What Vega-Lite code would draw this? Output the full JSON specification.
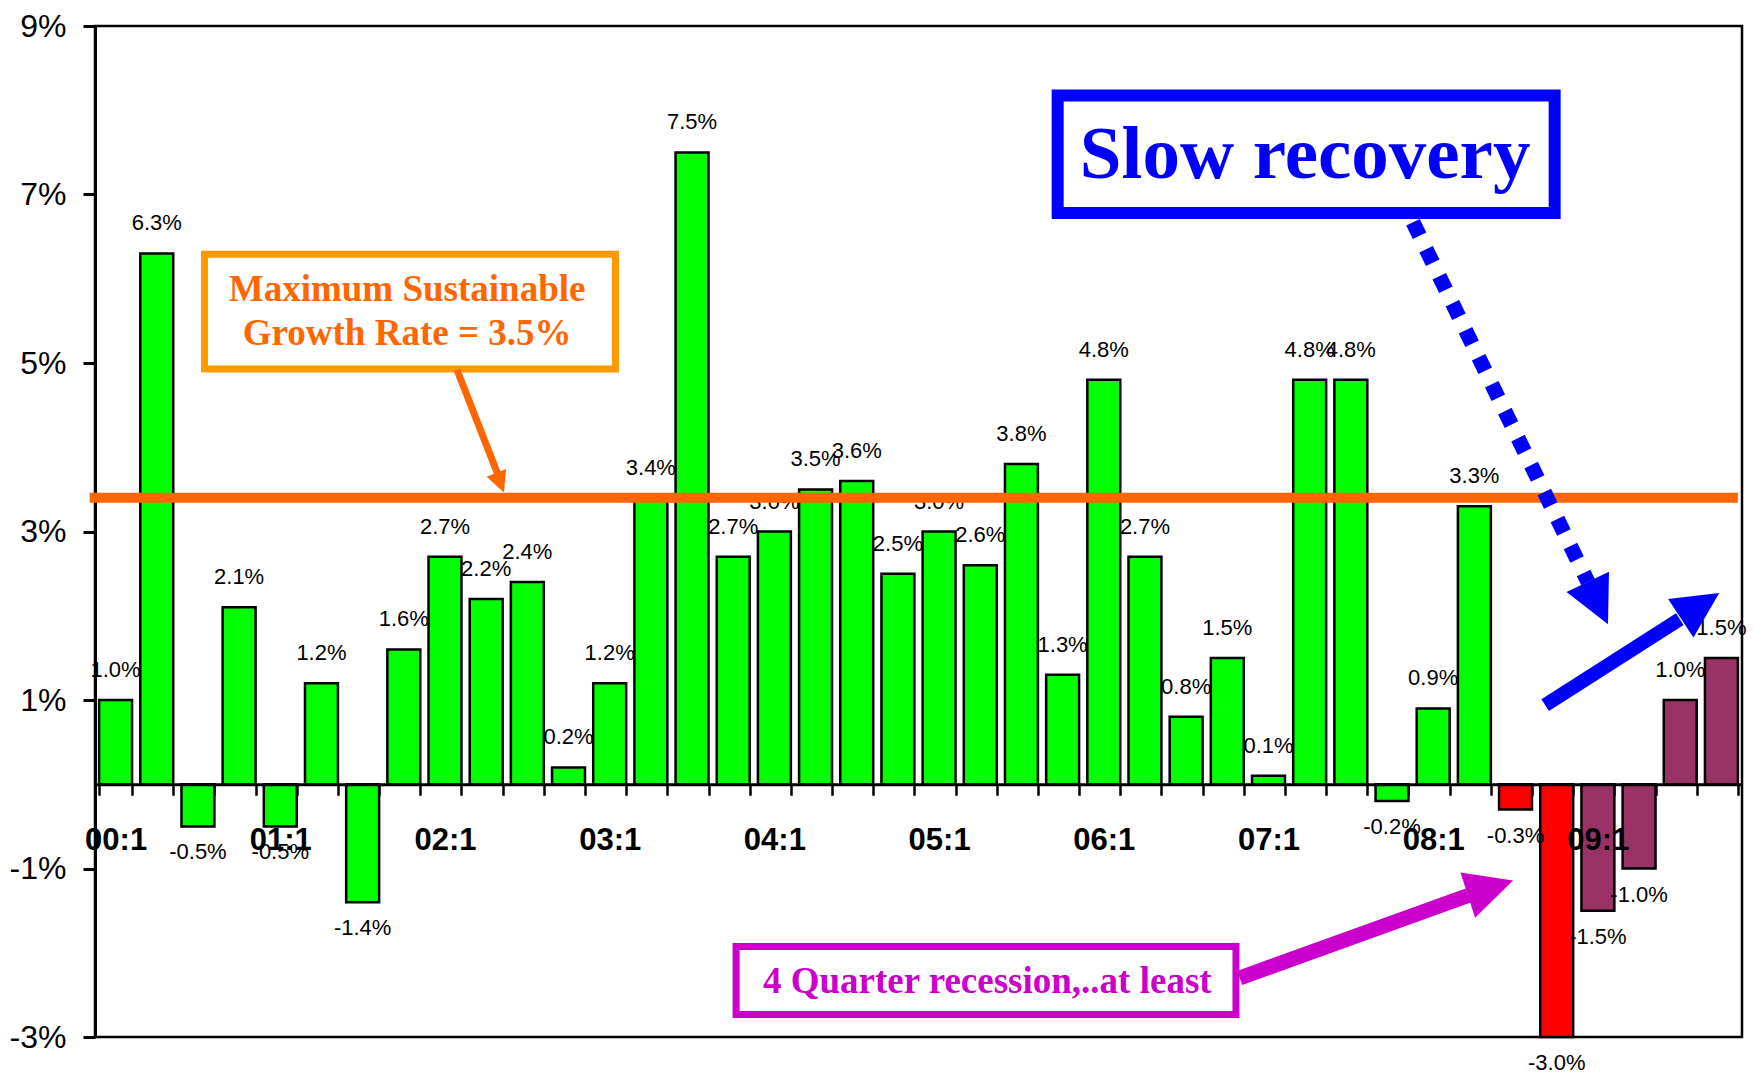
{
  "$schema": "https://vega.github.io/schema/vega-lite/v6.json",
  "width": 1647,
  "height": 1011,
  "autosize": {"type": "none"},
  "padding": {"left": 95, "top": 26, "right": 12, "bottom": 36},
  "background": "white",
  "config": {"view": {"stroke": "black", "strokeWidth": 2.5}, "font": "Liberation Sans"},
  "resolve": {"scale": {"x": "independent"}},
  "layer": [
    {
      "data": {"values": [
        {"q": "00:1", "v": 1.0, "g": "g"}, {"q": "00:2", "v": 6.3, "g": "g"}, {"q": "00:3", "v": -0.5, "g": "g"}, {"q": "00:4", "v": 2.1, "g": "g"},
        {"q": "01:1", "v": -0.5, "g": "g"}, {"q": "01:2", "v": 1.2, "g": "g"}, {"q": "01:3", "v": -1.4, "g": "g"}, {"q": "01:4", "v": 1.6, "g": "g"},
        {"q": "02:1", "v": 2.7, "g": "g"}, {"q": "02:2", "v": 2.2, "g": "g"}, {"q": "02:3", "v": 2.4, "g": "g"}, {"q": "02:4", "v": 0.2, "g": "g"},
        {"q": "03:1", "v": 1.2, "g": "g"}, {"q": "03:2", "v": 3.4, "g": "g"}, {"q": "03:3", "v": 7.5, "g": "g"}, {"q": "03:4", "v": 2.7, "g": "g"},
        {"q": "04:1", "v": 3.0, "g": "g"}, {"q": "04:2", "v": 3.5, "g": "g"}, {"q": "04:3", "v": 3.6, "g": "g"}, {"q": "04:4", "v": 2.5, "g": "g"},
        {"q": "05:1", "v": 3.0, "g": "g"}, {"q": "05:2", "v": 2.6, "g": "g"}, {"q": "05:3", "v": 3.8, "g": "g"}, {"q": "05:4", "v": 1.3, "g": "g"},
        {"q": "06:1", "v": 4.8, "g": "g"}, {"q": "06:2", "v": 2.7, "g": "g"}, {"q": "06:3", "v": 0.8, "g": "g"}, {"q": "06:4", "v": 1.5, "g": "g"},
        {"q": "07:1", "v": 0.1, "g": "g"}, {"q": "07:2", "v": 4.8, "g": "g"}, {"q": "07:3", "v": 4.8, "g": "g"}, {"q": "07:4", "v": -0.2, "g": "g"},
        {"q": "08:1", "v": 0.9, "g": "g"}, {"q": "08:2", "v": 3.3, "g": "g"}, {"q": "08:3", "v": -0.3, "g": "r"}, {"q": "08:4", "v": -3.0, "g": "r"},
        {"q": "09:1", "v": -1.5, "g": "m"}, {"q": "09:2", "v": -1.0, "g": "m"}, {"q": "09:3", "v": 1.0, "g": "m"}, {"q": "09:4", "v": 1.5, "g": "m"}
      ]},
      "layer": [
        {
          "mark": {"type": "bar", "stroke": "black", "strokeWidth": 2.5},
          "encoding": {
            "x": {"field": "q", "type": "ordinal", "sort": null,
              "scale": {"paddingInner": 0.2, "paddingOuter": 0.1},
              "axis": {"title": null, "offset": -252.75, "tickBand": "extent", "labelAngle": 0, "zindex": 1,
                "labelExpr": "indexof(datum.label, ':1') > 0 ? datum.label : ''",
                "labelFont": "Liberation Sans", "labelFontSize": 31, "labelFontWeight": "bold", "labelColor": "black",
                "labelPadding": 30, "labelOverlap": false, "labelBound": false,
                "domainColor": "black", "domainWidth": 3, "tickColor": "black", "tickWidth": 2.5, "tickSize": 11, "grid": false}},
            "y": {"field": "v", "type": "quantitative",
              "scale": {"domain": [-3, 9], "nice": false},
              "axis": {"title": null, "values": [-3, -1, 1, 3, 5, 7, 9], "labelExpr": "datum.value + '%'", "grid": false,
                "labelFont": "Liberation Sans", "labelFontSize": 32, "labelColor": "black", "labelPadding": 17,
                "tickSize": 12, "tickWidth": 3, "tickColor": "black", "domainColor": "black", "domainWidth": 3}},
            "fill": {"field": "g", "type": "nominal",
              "scale": {"domain": ["g", "r", "m"], "range": ["#00FF00", "#FF0000", "#993366"]}, "legend": null}
          }
        },
        {
          "mark": {"type": "text", "font": "Liberation Sans", "fontSize": 22, "fill": "black", "baseline": "middle", "align": "center",
            "text": {"expr": "(datum.v < 0 ? '-' : '') + format(abs(datum.v), '.1f') + '%'"},
            "dy": {"expr": "datum.v >= 0 ? -30 : 26"}},
          "encoding": {
            "x": {"field": "q", "type": "ordinal", "sort": null, "title": null},
            "y": {"field": "v", "type": "quantitative", "title": null}
          }
        }
      ]
    },
    {
      "layer": [
        {
          "data": {"values": [{"x1": -0.13, "x2": 39.9, "y": 3.4}]},
          "mark": {"type": "rule", "color": "#FF6600", "strokeWidth": 10},
          "encoding": {
            "x": {"field": "x1", "type": "quantitative", "scale": {"domain": [0, 40], "nice": false}, "axis": null},
            "x2": {"field": "x2"},
            "y": {"field": "y", "type": "quantitative", "scale": {"domain": [-3, 9], "nice": false}, "title": null}
          }
        },
        {
          "data": {"values": [{"x1": 2.66, "x2": 12.64, "y1": 6.29, "y2": 4.93}]},
          "mark": {"type": "rect", "fill": "white", "stroke": "#FF9900", "strokeWidth": 7},
          "encoding": {
            "x": {"field": "x1", "type": "quantitative", "scale": {"domain": [0, 40], "nice": false}, "axis": null},
            "x2": {"field": "x2"},
            "y": {"field": "y1", "type": "quantitative", "title": null},
            "y2": {"field": "y2"}
          }
        },
        {
          "data": {"values": [{"x": 7.58, "y": 5.866, "t": "Maximum Sustainable\nGrowth Rate = 3.5%"}]},
          "mark": {"type": "text", "font": "Liberation Serif", "fontWeight": "bold", "fontSize": 37, "fill": "#FF6600",
            "lineBreak": "\n", "lineHeight": 44, "baseline": "middle", "align": "center"},
          "encoding": {
            "x": {"field": "x", "type": "quantitative", "scale": {"domain": [0, 40], "nice": false}, "axis": null},
            "y": {"field": "y", "type": "quantitative", "title": null},
            "text": {"field": "t"}
          }
        },
        {
          "data": {"values": [{"x": 8.79, "y": 4.92}, {"x": 9.775, "y": 3.69}]},
          "mark": {"type": "line", "stroke": "#FF6600", "strokeWidth": 7},
          "encoding": {
            "x": {"field": "x", "type": "quantitative", "scale": {"domain": [0, 40], "nice": false}, "axis": null},
            "y": {"field": "y", "type": "quantitative", "title": null}
          }
        },
        {
          "data": {"values": [{"x": 9.84, "y": 3.58}]},
          "mark": {"type": "point", "shape": "M0,-1L1,1L-1,1Z", "filled": true, "color": "#FF6600", "opacity": 1, "strokeWidth": 0, "size": 441, "angle": 158.6},
          "encoding": {
            "x": {"field": "x", "type": "quantitative", "scale": {"domain": [0, 40], "nice": false}, "axis": null},
            "y": {"field": "y", "type": "quantitative", "title": null}
          }
        }
      ]
    },
    {
      "layer": [
        {
          "data": {"values": [{"x1": 23.38, "x2": 35.45, "y1": 8.175, "y2": 6.78}]},
          "mark": {"type": "rect", "fill": "white", "stroke": "#0000FF", "strokeWidth": 12},
          "encoding": {
            "x": {"field": "x1", "type": "quantitative", "scale": {"domain": [0, 40], "nice": false}, "axis": null},
            "x2": {"field": "x2"},
            "y": {"field": "y1", "type": "quantitative", "title": null},
            "y2": {"field": "y2"}
          }
        },
        {
          "data": {"values": [{"x": 29.39, "y": 7.463, "t": "Slow recovery"}]},
          "mark": {"type": "text", "font": "Liberation Serif", "fontWeight": "bold", "fontSize": 75, "fill": "#0000FF", "baseline": "middle", "align": "center"},
          "encoding": {
            "x": {"field": "x", "type": "quantitative", "scale": {"domain": [0, 40], "nice": false}, "axis": null},
            "y": {"field": "y", "type": "quantitative", "title": null},
            "text": {"field": "t"}
          }
        },
        {
          "data": {"values": [{"x": 32.01, "y": 6.67}, {"x": 36.26, "y": 2.40}]},
          "mark": {"type": "line", "stroke": "#0000FF", "strokeWidth": 15, "strokeDash": [15, 15], "strokeCap": "butt"},
          "encoding": {
            "x": {"field": "x", "type": "quantitative", "scale": {"domain": [0, 40], "nice": false}, "axis": null},
            "y": {"field": "y", "type": "quantitative", "title": null}
          }
        },
        {
          "data": {"values": [{"x": 36.50, "y": 2.15}]},
          "mark": {"type": "point", "shape": "M0,-1L1,1L-1,1Z", "filled": true, "color": "#0000FF", "opacity": 1, "strokeWidth": 0, "size": 2209, "angle": 154.5},
          "encoding": {
            "x": {"field": "x", "type": "quantitative", "scale": {"domain": [0, 40], "nice": false}, "axis": null},
            "y": {"field": "y", "type": "quantitative", "title": null}
          }
        },
        {
          "data": {"values": [{"x": 35.22, "y": 0.94}, {"x": 38.49, "y": 1.96}]},
          "mark": {"type": "line", "stroke": "#0000FF", "strokeWidth": 14, "strokeCap": "butt"},
          "encoding": {
            "x": {"field": "x", "type": "quantitative", "scale": {"domain": [0, 40], "nice": false}, "axis": null},
            "y": {"field": "y", "type": "quantitative", "title": null}
          }
        },
        {
          "data": {"values": [{"x": 38.98, "y": 2.12}]},
          "mark": {"type": "point", "shape": "M0,-1L1,1L-1,1Z", "filled": true, "color": "#0000FF", "opacity": 1, "strokeWidth": 0, "size": 2116, "angle": 56.6},
          "encoding": {
            "x": {"field": "x", "type": "quantitative", "scale": {"domain": [0, 40], "nice": false}, "axis": null},
            "y": {"field": "y", "type": "quantitative", "title": null}
          }
        }
      ]
    },
    {
      "layer": [
        {
          "data": {"values": [{"x1": 15.57, "x2": 27.71, "y1": -1.926, "y2": -2.733}]},
          "mark": {"type": "rect", "fill": "white", "stroke": "#CC00CC", "strokeWidth": 7},
          "encoding": {
            "x": {"field": "x1", "type": "quantitative", "scale": {"domain": [0, 40], "nice": false}, "axis": null},
            "x2": {"field": "x2"},
            "y": {"field": "y1", "type": "quantitative", "title": null},
            "y2": {"field": "y2"}
          }
        },
        {
          "data": {"values": [{"x": 21.67, "y": -2.35, "t": "4 Quarter recession,..at least"}]},
          "mark": {"type": "text", "font": "Liberation Serif", "fontWeight": "bold", "fontSize": 37, "fill": "#CC00CC", "baseline": "middle", "align": "center"},
          "encoding": {
            "x": {"field": "x", "type": "quantitative", "scale": {"domain": [0, 40], "nice": false}, "axis": null},
            "y": {"field": "y", "type": "quantitative", "title": null},
            "text": {"field": "t"}
          }
        },
        {
          "data": {"values": [{"x": 27.80, "y": -2.30}, {"x": 33.35, "y": -1.32}]},
          "mark": {"type": "line", "stroke": "#CC00CC", "strokeWidth": 15, "strokeCap": "butt"},
          "encoding": {
            "x": {"field": "x", "type": "quantitative", "scale": {"domain": [0, 40], "nice": false}, "axis": null},
            "y": {"field": "y", "type": "quantitative", "title": null}
          }
        },
        {
          "data": {"values": [{"x": 33.89, "y": -1.23}]},
          "mark": {"type": "point", "shape": "M0,-1L1,1L-1,1Z", "filled": true, "color": "#CC00CC", "opacity": 1, "strokeWidth": 0, "size": 2260, "angle": 72.1},
          "encoding": {
            "x": {"field": "x", "type": "quantitative", "scale": {"domain": [0, 40], "nice": false}, "axis": null},
            "y": {"field": "y", "type": "quantitative", "title": null}
          }
        }
      ]
    }
  ]
}
